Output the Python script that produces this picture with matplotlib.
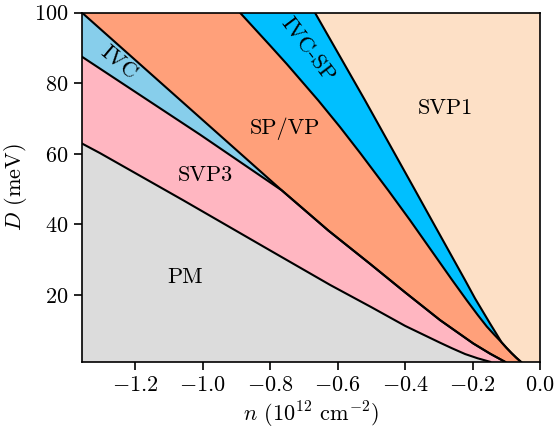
import numpy as np
import matplotlib
matplotlib.use("Agg")
import matplotlib.pyplot as plt

plt.rcParams['font.family'] = 'serif'
plt.rcParams['font.serif'] = ['cmr10']
plt.rcParams['mathtext.fontset'] = 'cm'
plt.rcParams['axes.formatter.use_mathtext'] = True
plt.rcParams['font.size'] = 16

# phase boundaries, each from top to bottom
# PM / SVP3
pm_n = [-1.357, -1.304, -1.057, -0.8, -0.622, -0.5, -0.4, -0.296, -0.26, -0.222, -0.185, -0.148]
pm_D = [62.9, 60.2, 46.8, 32.6, 22.8, 16.5, 11.2, 6.4, 4.8, 3.2, 2.0, 1.0]

# SVP3 / SP shared lower part (below where IVC closes)
tail_n = [-0.765, -0.627, -0.504, -0.40, -0.296, -0.198, -0.148, -0.104]
tail_D = [49.6, 38.2, 28.8, 20.7, 12.8, 6.2, 3.3, 1.0]

# SVP3 / IVC
svp3_n = [-1.357, -1.007] + tail_n
svp3_D = [87.5, 65.4] + tail_D

# IVC / SP
ivc_n = [-1.357] + tail_n
ivc_D = [100.0] + tail_D

# lower end shared by SP / IVC-SP and IVC-SP / SVP1
tip_n = [-0.114, -0.1, -0.085, -0.071, -0.057]
tip_D = [6.5, 5.0, 3.5, 2.2, 1.0]

# IVC-SP / SVP1
ivcsp_n = [-0.667, -0.519, -0.37, -0.326, -0.222, -0.193, -0.148, -0.13] + tip_n
ivcsp_D = [100.0, 75.2, 49.6, 42.0, 24.1, 19.0, 11.8, 9.0] + tip_D

# SP / IVC-SP
sp_n = [-0.889, -0.8, -0.75, -0.657, -0.593, -0.533, -0.449, -0.385,
        -0.26, -0.217, -0.185, -0.158, -0.135] + tip_n
sp_D = [100.0, 90.7, 85.4, 75.1, 67.6, 60.2, 49.5, 41.1,
        24.1, 18.4, 14.3, 11.0, 8.6] + tip_D

labels = ['PM', 'SVP3', 'SP/VP', 'SVP1', 'IVC', 'IVC-SP']
label_n = [-1.053, -0.993, -0.756, -0.282, -1.249, -0.689]
label_D = [24.9, 53.9, 67.2, 72.8, 85.9, 89.4]
label_rot = [0, 0, 0, 0, -40, -53]

nmin, nmax = -1.357, 0.0
Dmin, Dmax = 1.0, 100.0


def fill_left(ax, n, D, color):
    # polygon between the left edge and a boundary
    xs = list(n) + [nmin, nmin]
    ys = list(D) + [D[-1], D[0]]
    ax.fill(xs, ys, color=color, lw=0)


fig = plt.figure(figsize=(5.54, 4.37), dpi=100)
ax = fig.add_axes([0.148, 0.172, 0.827, 0.799])
ax.set_facecolor('#fde0c6')

fill_left(ax, ivcsp_n, ivcsp_D, 'deepskyblue')
fill_left(ax, sp_n, sp_D, 'lightsalmon')
fill_left(ax, ivc_n, ivc_D, 'skyblue')
fill_left(ax, svp3_n, svp3_D, 'lightpink')
fill_left(ax, pm_n, pm_D, 'gainsboro')

for n, D in [(pm_n, pm_D), (svp3_n, svp3_D), (ivc_n, ivc_D),
             (sp_n, sp_D), (ivcsp_n, ivcsp_D)]:
    ax.plot(n, D, color='black', lw=1.5, solid_joinstyle='round')

for txt, x, y, r in zip(labels, label_n, label_D, label_rot):
    ax.text(x, y, txt, ha='center', va='center', rotation=r)

ax.set_xlim(nmin, nmax)
ax.set_ylim(Dmin, Dmax)
ax.set_xticks([-1.2, -1.0, -0.8, -0.6, -0.4, -0.2, 0.0])
ax.set_yticks([20, 40, 60, 80, 100])
ax.tick_params(width=1.2, length=6)
for s in ax.spines.values():
    s.set_linewidth(1.2)
ax.set_xlabel(r'$n$ ($10^{12}$ cm$^{-2}$)')
ax.set_ylabel(r'$D$ (meV)')

plt.savefig('out.png', dpi=100)
